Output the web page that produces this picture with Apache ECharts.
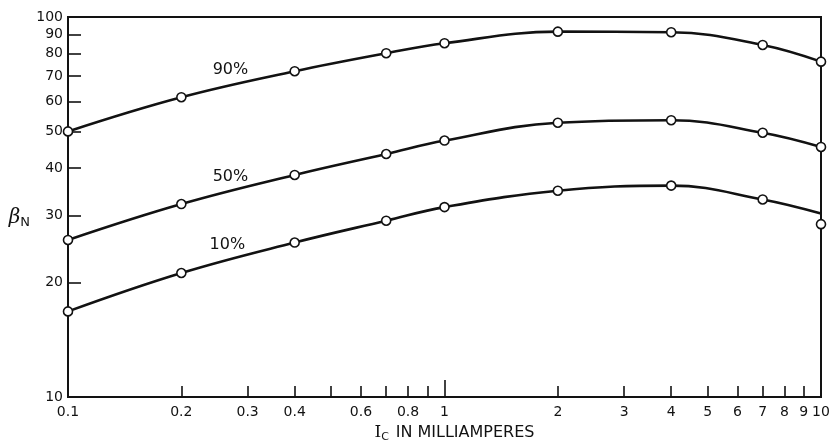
<!DOCTYPE html>
<html>
<head>
<meta charset="utf-8">
<script src="https://cdn.jsdelivr.net/npm/echarts@6/dist/echarts.min.js"></script>
<style>html,body{margin:0;padding:0;background:#fff}#c{width:829px;height:441px}</style>
</head>
<body>
<div id="c"></div>
<script>
// ---- data ----
var currentMA = [0.1, 0.2, 0.4, 0.7, 1, 2, 4, 7, 10];
var beta90 = [50, 61.5, 72, 80.3, 85.3, 91.5, 91.2, 84.4, 76.3];
var beta50 = [25.9, 32.2, 38.4, 43.6, 47.3, 52.7, 53.5, 49.6, 45.5];
var beta10Points = [16.8, 21.2, 25.5, 29.1, 31.6, 34.9, 36.0, 33.1, 28.5];
var beta10Curve = [16.8, 21.2, 25.5, 29.1, 31.6, 34.9, 36.0, 33.1, 30.4];
var curveLabels = ['90%', '50%', '10%'];
var labelX = [0.27, 0.27, 0.265];
var labelY = [72.5, 37.9, 25.1];
var xTickLabels = [0.1, 0.2, 0.3, 0.4, 0.6, 0.8, 1, 2, 3, 4, 5, 6, 7, 8, 9, 10];
var xMinorTicks = [0.2, 0.3, 0.4, 0.5, 0.6, 0.7, 0.8, 0.9, 2, 3, 4, 5, 6, 7, 8, 9];
var xMajorTicks = [1];
var yTickLabels = [10, 20, 30, 40, 50, 60, 70, 80, 90, 100];
var yTicks = [20, 30, 40, 50, 60, 70, 80, 90];

function pairs(xs, ys) { return xs.map(function (x, i) { return [x, ys[i]]; }); }

var ink = '#121212';
var font = 'DejaVu Sans';

var chart = echarts.init(document.getElementById('c'));
var lineCommon = {
  type: 'line', smooth: 0.4, symbol: 'none',
  lineStyle: { color: ink, width: 2.6 }, z: 3, silent: true
};
var markerCommon = {
  type: 'scatter', symbol: 'circle', symbolSize: 9,
  itemStyle: { color: '#fff', borderColor: ink, borderWidth: 1.6, opacity: 1 }, z: 5, silent: true
};

chart.setOption({
  animation: false,
  backgroundColor: '#fff',
  grid: { left: 68, right: 8, top: 17, bottom: 44, outerBoundsMode: 'none', containLabel: false,
    show: true, borderColor: ink, borderWidth: 2, backgroundColor: 'transparent' },
  xAxis: [{
    type: 'log', logBase: 10, min: 0.1, max: 10,
    name: '{i|I}{s|C}  {t|IN MILLIAMPERES}', nameLocation: 'middle', nameGap: 25,
    nameTextStyle: { rich: {
      i: { fontFamily: 'DejaVu Serif', fontSize: 17, color: ink },
      s: { fontFamily: font, fontSize: 11, color: ink, padding: [9, 0, 0, 0] },
      t: { fontFamily: font, fontSize: 16, color: ink }
    }, padding: [0, 0, 0, 20] },
    axisLine: { show: true, lineStyle: { color: ink, width: 2 } },
    axisTick: { show: true, inside: true, length: 11, customValues: xMinorTicks, lineStyle: { color: ink, width: 1.6 } },
    axisLabel: { show: true, customValues: xTickLabels, margin: 8, fontFamily: font, fontSize: 14, color: ink,
      formatter: function (v) { return String(+v.toFixed(2)); } },
    splitLine: { show: false }, minorTick: { show: false }, minorSplitLine: { show: false }
  }, {
    type: 'log', logBase: 10, min: 0.1, max: 10, position: 'bottom',
    axisLine: { show: false },
    axisTick: { show: true, inside: true, length: 17, customValues: xMajorTicks, lineStyle: { color: ink, width: 1.6 } },
    axisLabel: { show: false }, splitLine: { show: false }
  }],
  yAxis: {
    type: 'log', logBase: 10, min: 10, max: 100,
    name: '{b|β}{n|N}', nameLocation: 'middle', nameRotate: 0, nameGap: 38,
    nameTextStyle: { rich: {
      b: { fontFamily: 'DejaVu Serif', fontStyle: 'italic', fontSize: 20, color: ink },
      n: { fontFamily: font, fontSize: 13, color: ink, padding: [10, 0, 0, 0] }
    }, padding: [22, 0, 0, 0], verticalAlign: 'middle' },
    axisLine: { show: true, lineStyle: { color: ink, width: 2 } },
    axisTick: { show: true, inside: true, length: 13, customValues: yTicks, lineStyle: { color: ink, width: 1.6 } },
    axisLabel: { show: true, customValues: yTickLabels, margin: 5, fontFamily: font, fontSize: 14, color: ink },
    splitLine: { show: false }
  },
  series: [
    Object.assign({ data: pairs(currentMA, beta90) }, lineCommon),
    Object.assign({ data: pairs(currentMA, beta50) }, lineCommon),
    Object.assign({ data: pairs(currentMA, beta10Curve) }, lineCommon),
    Object.assign({ data: pairs(currentMA, beta90) }, markerCommon),
    Object.assign({ data: pairs(currentMA, beta50) }, markerCommon),
    Object.assign({ data: pairs(currentMA, beta10Points) }, markerCommon),
    {
      type: 'scatter', symbolSize: 0, silent: true, z: 6,
      itemStyle: { opacity: 1 },
      data: labelX.map(function (x, i) { return { value: [x, labelY[i]], name: curveLabels[i] }; }),
      label: { show: true, position: 'inside', formatter: '{b}', fontFamily: font, fontSize: 16, color: ink, opacity: 1 }
    }
  ]
});
</script>
</body>
</html>
